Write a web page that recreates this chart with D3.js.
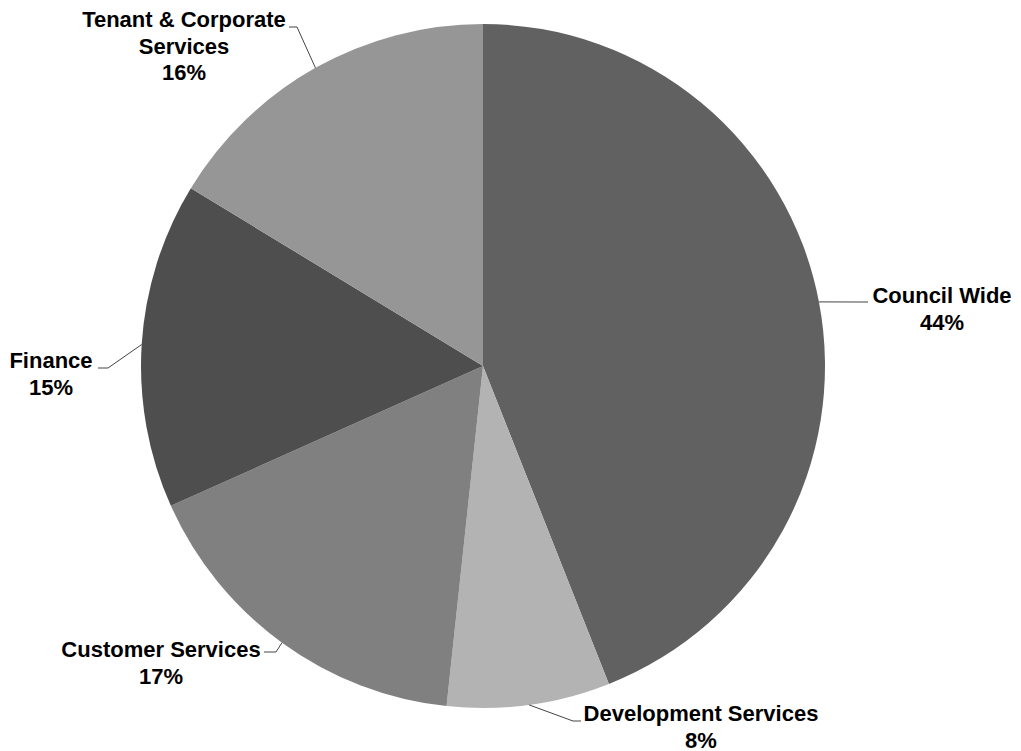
<!DOCTYPE html>
<html>
<head>
<meta charset="utf-8">
<script src="https://cdn.jsdelivr.net/npm/d3@7"></script>
<style>
  body { margin: 0; background: #fff; }
  text { font-family: "Liberation Sans", Arial, sans-serif; font-weight: bold; font-size: 22px; fill: #000; }
</style>
</head>
<body>
<svg id="chart" width="1021" height="751"></svg>
<script>
var categories = ["Council Wide", "Development Services", "Customer Services", "Finance", "Tenant & Corporate Services"];
var shares = [44.0, 7.7, 16.6, 15.4, 16.3];
var sliceColors = ["#616161", "#b3b3b3", "#808080", "#4e4e4e", "#969696"];

// label layout: text lines, anchor x, first baseline, leader elbow and end
var labelLines = [["Council Wide"], ["Development Services"], ["Customer Services"], ["Finance"], ["Tenant & Corporate", "Services"]];
var labelPos = [
    { x: 942, y: 303, elbow: [866, 302], end: [868, 302] },
    { x: 701, y: 721, elbow: [573, 721], end: [581, 721] },
    { x: 161, y: 657, elbow: [276, 652], end: [264, 652] },
    { x: 51,  y: 368, elbow: [108, 368], end: [98, 368] },
    { x: 184, y: 27,  elbow: [297, 27],  end: [289, 27] }
];

var cx = 483, cy = 366, radius = 342, lineH = 26.5;

var svg = d3.select("#chart");
var g = svg.append("g").attr("transform", "translate(" + cx + "," + cy + ")");

var data = categories.map(function(c, i) { return { name: c, value: shares[i], i: i }; });

var pie = d3.pie().sort(null).value(function(d) { return d.value; });
var arc = d3.arc().innerRadius(0).outerRadius(radius);
var arcs = pie(data);
var pct = function(v) { return Math.round(v) + "%"; };

g.selectAll("path.slice")
    .data(arcs)
    .enter().append("path")
    .attr("class", "slice")
    .attr("d", arc)
    .style("fill", function(d) { return sliceColors[d.data.i]; });

// leader lines
svg.selectAll("polyline.leader")
    .data(arcs)
    .enter().append("polyline")
    .attr("class", "leader")
    .attr("points", function(d) {
        var a = (d.startAngle + d.endAngle) / 2;
        var p = labelPos[d.data.i];
        var sx = cx + radius * Math.sin(a), sy = cy - radius * Math.cos(a);
        return [[sx, sy], p.elbow, p.end].map(function(q) { return q.join(","); }).join(" ");
    })
    .style("fill", "none")
    .style("stroke", "#444")
    .style("stroke-width", 1);

// labels
var labels = svg.selectAll("text.lbl")
    .data(arcs)
    .enter().append("text")
    .attr("class", "lbl")
    .attr("text-anchor", "middle");

labels.each(function(d) {
    var t = d3.select(this);
    var p = labelPos[d.data.i];
    var lines = labelLines[d.data.i].concat([pct(d.data.value)]);
    lines.forEach(function(s, k) {
        t.append("tspan").attr("x", p.x).attr("y", p.y + k * lineH).text(s);
    });
});
</script>
</body>
</html>
